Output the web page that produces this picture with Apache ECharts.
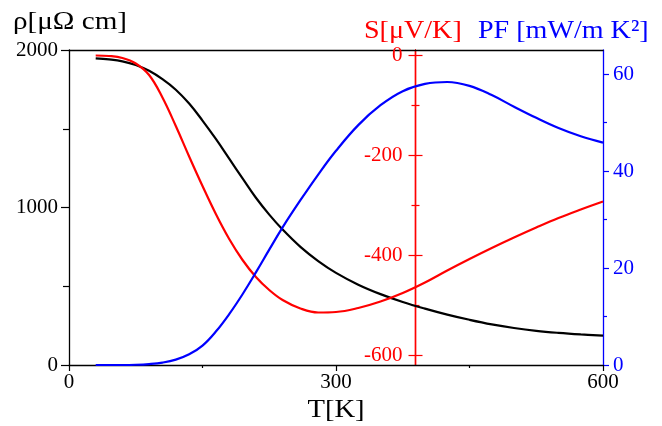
<!DOCTYPE html>
<html>
<head>
<meta charset="utf-8">
<script src="https://cdn.jsdelivr.net/npm/echarts@6/dist/echarts.min.js"></script>
<style>html,body{margin:0;padding:0;background:#fff}#c{width:662px;height:426px}</style>
</head>
<body>
<div id="c"></div>
<script>
// Temperature (K)
var temps = [30,45,60,75,90,105,120,135,150,165,180,195,210,225,240,260,280,300,325,350,375,400,425,450,475,500,525,550,575,600];
// Resistivity rho [μΩ cm]
var rho = [1947,1940,1928,1905,1868,1815,1748,1660,1552,1435,1310,1185,1062,955,860,750,660,585,510,450,400,358,320,287,258,235,217,204,194,186];
// Seebeck S [μV/K]
var seebeck = [-1,-2,-6,-17,-40,-85,-142,-203,-262,-318,-368,-410,-444,-470,-490,-507,-515,-514,-506,-493,-476,-455,-431,-408,-386,-365,-345,-326,-309,-293];
// Power factor PF [mW/m K^2]
var pf = [0,0,0,0.05,0.2,0.5,1.1,2.2,4.0,6.9,10.5,14.6,19.1,23.8,28.4,34.0,39.3,44.2,49.5,53.6,56.5,58.0,58.4,57.6,55.7,53.3,51.0,48.9,47.2,45.9];

var xTicks = [0,300,600];
var rhoTicks = [0,1000,2000];
var sMajor = [-600,-400,-200,0];
var sMinor = [-500,-300,-100];
var pfMajor = [0,20,40,60];
var pfMinor = [10,30,50];

function pairs(xs, ys){ return xs.map(function(x,i){ return [x, ys[i]]; }); }
function plain(v){ return String(v); }

var SERIF = '"Liberation Serif","DejaVu Serif",serif';
var RED = '#ff0000', BLUE = '#0000ff';
var redOffset = -187.5;

function redAxis(opts){
  var base = {
    type:'value', position:'right', offset:redOffset, min:-620, max:10,
    splitLine:{show:false},
    axisLine:{show:true, onZero:false, lineStyle:{color:RED, width:1.2}},
    axisLabel:{show:false},
    axisTick:{show:false}
  };
  for (var k in opts) base[k] = opts[k];
  return base;
}

function title(text, x, y, color, align, sx){
  return {type:'text', x:x, y:y, scaleX:sx, style:{text:text, font:'26px ' + SERIF, fill:color,
    textAlign:align, textVerticalAlign:'middle', align:align, verticalAlign:'middle'}};
}

var chart = echarts.init(document.getElementById('c'), null, {renderer:'canvas'});
chart.setOption({
  animation:false,
  backgroundColor:'#fff',
  grid:{left:69, right:59, top:50, bottom:61, containLabel:false},
  xAxis:[
    {type:'value', min:0, max:600, interval:300, position:'bottom',
     axisLine:{onZero:false, lineStyle:{color:'#000', width:1.3}},
     axisTick:{length:6, lineStyle:{color:'#000', width:1.2}},
     minorTick:{show:true, splitNumber:2, length:3, lineStyle:{color:'#000', width:1.2}},
     axisLabel:{fontFamily:SERIF, fontSize:21, color:'#000', margin:7,
       customValues: xTicks, formatter: plain},
     splitLine:{show:false}, minorSplitLine:{show:false}},
    {type:'value', min:0, max:600, position:'top',
     axisLine:{show:true, onZero:false, lineStyle:{color:'#000', width:1.3}},
     axisTick:{show:false}, axisLabel:{show:false}, splitLine:{show:false}}
  ],
  yAxis:[
    {type:'value', min:0, max:2000, interval:1000, position:'left',
     axisLine:{show:true, onZero:false, lineStyle:{color:'#000', width:1.3}},
     axisTick:{show:true, length:8, lineStyle:{color:'#000', width:1.2}},
     minorTick:{show:true, splitNumber:2, length:6, lineStyle:{color:'#000', width:1.2}},
     axisLabel:{fontFamily:SERIF, fontSize:21, color:'#000', margin:11, customValues: rhoTicks, formatter: plain},
     splitLine:{show:false}, minorSplitLine:{show:false}},
    redAxis({
      axisLabel:{show:true, inside:true, margin:13, fontFamily:SERIF, fontSize:21, color:RED, customValues:sMajor, formatter: plain},
      axisTick:{show:true, inside:true, length:7, customValues:sMajor, lineStyle:{color:RED, width:1.2}}
    }),
    redAxis({axisTick:{show:true, inside:false, length:7, customValues:sMajor, lineStyle:{color:RED, width:1.2}}}),
    redAxis({axisTick:{show:true, inside:true, length:4, customValues:sMinor, lineStyle:{color:RED, width:1.2}}}),
    redAxis({axisTick:{show:true, inside:false, length:4, customValues:sMinor, lineStyle:{color:RED, width:1.2}}}),
    {type:'value', min:0, max:65, position:'right', offset:0,
     axisLine:{show:true, onZero:false, lineStyle:{color:BLUE, width:1.3}},
     axisTick:{show:true, length:6, customValues:pfMajor, lineStyle:{color:BLUE, width:1.2}},
     axisLabel:{fontFamily:SERIF, fontSize:21, color:BLUE, margin:10, customValues:pfMajor, formatter: plain},
     splitLine:{show:false}},
    {type:'value', min:0, max:65, position:'right', offset:0,
     axisLine:{show:false, onZero:false},
     axisTick:{show:true, length:4, customValues:pfMinor, lineStyle:{color:BLUE, width:1.2}},
     axisLabel:{show:false}, splitLine:{show:false}}
  ],
  graphic:[
    title('ρ[μΩ cm]', 13, 22, '#000', 'left', 1.12),
    title('S[μV/K]', 364, 31, RED, 'left', 1.08),
    title('PF [mW/m K²]', 478, 31, BLUE, 'left', 1.08),
    title('T[K]', 336, 410, '#000', 'center', 1.1)
  ],
  series:[
    {type:'line', name:'rho', xAxisIndex:0, yAxisIndex:0, data:pairs(temps, rho), smooth:0.4,
     showSymbol:false, lineStyle:{color:'#000', width:2.2}, z:3},
    {type:'line', name:'S', xAxisIndex:0, yAxisIndex:1, data:pairs(temps, seebeck), smooth:0.4,
     showSymbol:false, lineStyle:{color:RED, width:2.2}, z:3},
    {type:'line', name:'PF', xAxisIndex:0, yAxisIndex:5, data:pairs(temps, pf), smooth:0.4,
     showSymbol:false, lineStyle:{color:BLUE, width:2.2}, z:3}
  ]
});
</script>
</body>
</html>
